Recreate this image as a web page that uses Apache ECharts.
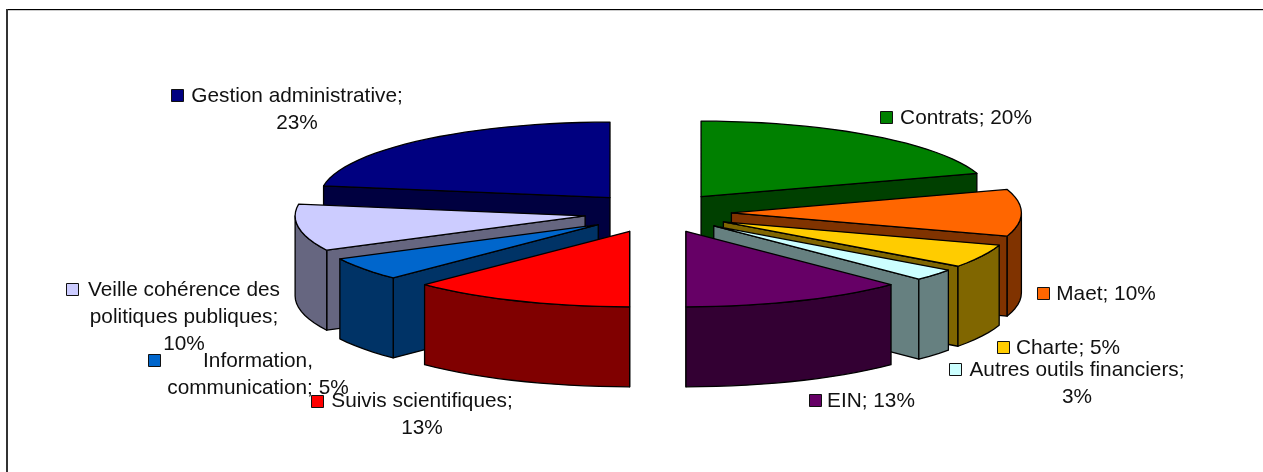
<!DOCTYPE html>
<html><head><meta charset="utf-8">
<style>html,body{margin:0;padding:0;background:#fff}#c{width:1263px;height:472px}</style>
<script src="https://cdn.jsdelivr.net/npm/echarts@6/dist/echarts.min.js"></script>
</head><body><div id="c"></div>
<script>
const categories = ['Contrats','Maet','Charte','Autres outils financiers','EIN','Suivis scientifiques','Information,\ncommunication','Veille cohérence des\npolitiques publiques','Gestion administrative'];
const shares = [20,10,5,2.5,12.5,12.5,5,10,22.5];
const separators = ['; ','; ','; ',';\n','; ',';\n','; ',';\n',';\n'];

const topColors  = ['#008000','#FF6600','#FFCC00','#CCFFFF','#660066','#FF0000','#0066CC','#CCCCFF','#000080'];
const sideColors = ['#004000','#803300','#806600','#668080','#330033','#800000','#003366','#666680','#000040'];
// key box left/top, text centre x, first line y, per label
const labelLayout = [
  [880,111,966,118],[1037,287,1106,294],[997,341,1068,348],[949,363,1077,370],[809,394,871,401],
  [311,395,422,401],[148,354,258,361],[66,283,184,290],[171,89,297,96]
];
const geo = {cx:657.8, cy:212.8, dx:73.6, dy:20, rx:290, ry:75.5, h:80, lineH:27, key:12};
const total = shares.reduce((a,b)=>a+b,0);
let acc = 0;
const rows = shares.map((v,i)=>{
  const a0 = acc/total*Math.PI*2; acc += v;
  const a1 = acc/total*Math.PI*2; const m=(a0+a1)/2;
  return {value:[i,a0,a1,geo.cx+geo.dx*Math.sin(m),geo.cy-geo.dy*Math.cos(m)]};
});
const ordered = rows.slice().sort((p,q)=>p.value[4]-q.value[4]);
const line = {stroke:'#000',lineWidth:1.3,lineJoin:'round'};

function renderSlice(params,api){
  const i=api.value(0),a0=api.value(1),a1=api.value(2),ax=api.value(3),ay=api.value(4);
  const P=t=>[ax+geo.rx*Math.sin(t),ay-geo.ry*Math.cos(t)];
  const D=p=>[p[0],p[1]+geo.h];
  const arc=(s,e)=>{const n=Math.max(1,Math.ceil((e-s)/(Math.PI/60)));const o=[];for(let k=0;k<=n;k++)o.push(P(s+(e-s)*k/n));return o;};
  const apex=[ax,ay], ch=[];
  const poly=(pts,fill)=>ch.push({type:'polygon',shape:{points:pts},style:Object.assign({fill},line)});
  const cutA = Math.sin((a0+a1)/2)>=0 ? a1 : a0;
  const c=P(cutA);
  poly([apex,c,D(c),D(apex)],sideColors[i]);
  const s=Math.max(a0,Math.PI/2), e=Math.min(a1,Math.PI*1.5);
  if(e>s){const u=arc(s,e);poly(u.concat(u.map(D).reverse()),sideColors[i]);}
  poly([apex].concat(arc(a0,a1)),topColors[i]);
  return {type:'group',children:ch};
}
function renderLabel(params,api){
  const i=api.value(0),L=labelLayout[i];
  const txt=(categories[i]+separators[i]+Math.round(shares[i])+'%').split('\n');
  const ch=[{type:'rect',shape:{x:L[0]+.5,y:L[1]+.5,width:geo.key,height:geo.key},style:{fill:topColors[i],stroke:'#111',lineWidth:1}}];
  txt.forEach((t,k)=>ch.push({type:'text',style:{text:t,x:L[2],y:L[3]+k*geo.lineH,align:'center',verticalAlign:'middle',fill:'#111',font:'20.8px "Liberation Sans", Arial, sans-serif'}}));
  return {type:'group',children:ch};
}
const chart=echarts.init(document.getElementById('c'),null,{renderer:'canvas'});
chart.setOption({
  animation:false,backgroundColor:'#fff',
  graphic:[
    {type:'rect',shape:{x:6,y:9,width:1257,height:1},style:{fill:'#000'},silent:true},
    {type:'rect',shape:{x:8,y:10,width:1255,height:1},style:{fill:'#ccc'},silent:true},
    {type:'rect',shape:{x:6,y:9,width:2,height:463},style:{fill:'#333'},silent:true}
  ],
  series:[
    {type:'custom',coordinateSystem:'none',silent:true,data:ordered,renderItem:renderSlice,z:2},
    {type:'custom',coordinateSystem:'none',silent:true,data:rows.map(r=>[r.value[0]]),renderItem:renderLabel,z:3}
  ]
});
</script></body></html>
